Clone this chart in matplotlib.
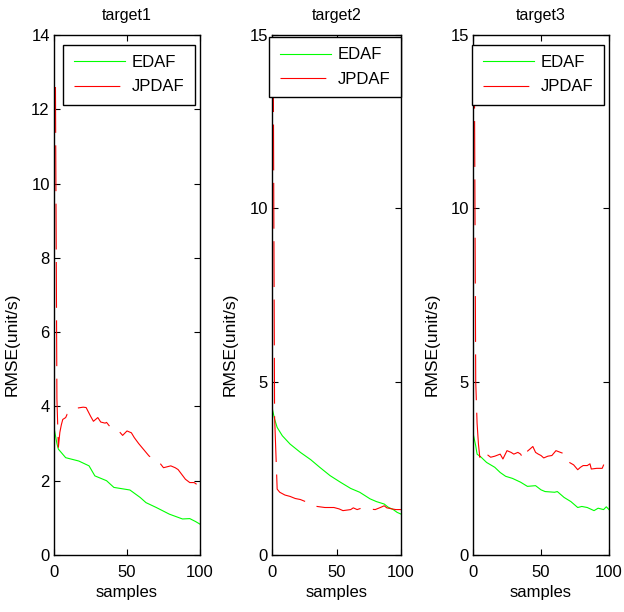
import matplotlib
matplotlib.use("Agg")
from matplotlib import pyplot as plt

plt.rcParams['font.family'] = ['Liberation Sans', 'DejaVu Sans']
plt.rcParams['lines.scale_dashes'] = False

# target1
t1_edaf_x = [0, 2, 3, 8, 17, 24, 28, 36, 41, 52, 59, 63, 70, 79, 88, 93, 97, 100]
t1_edaf_y = [3.43, 3.0, 2.85, 2.62, 2.53, 2.4, 2.13, 2.0, 1.82, 1.75, 1.55, 1.41, 1.28, 1.1, 0.97, 0.98, 0.9, 0.83]
t1_jpdaf_x = [1, 2, 3, 4, 5, 6, 8, 9, 12, 15, 20, 22, 25, 27, 30, 32, 35, 36, 40, 45, 47, 50,
              53, 55, 58, 65, 68, 72, 75, 80, 83, 85, 90, 93, 96, 100]
t1_jpdaf_y = [12.6, 4.2, 2.9, 3.3, 3.5, 3.65, 3.7, 3.79, 3.85, 3.95, 3.98, 3.97, 3.74, 3.6, 3.7, 3.58,
              3.55, 3.57, 3.37, 3.31, 3.22, 3.34, 3.29, 3.16, 3.0, 2.67, 2.58, 2.5, 2.35, 2.4, 2.35,
              2.3, 2.04, 1.95, 1.95, 1.84]

# target2
t2_edaf_x = [0, 2, 4, 8, 14, 22, 30, 37, 45, 53, 61, 68, 76, 81, 87, 90, 94, 97, 100]
t2_edaf_y = [4.26, 3.92, 3.68, 3.44, 3.2, 2.96, 2.75, 2.53, 2.29, 2.1, 1.92, 1.81, 1.62, 1.54,
             1.47, 1.38, 1.31, 1.23, 1.18]
t2_jpdaf_x = [1, 2, 4, 6, 10, 14, 18, 22, 26, 30, 31, 35, 41, 48, 52, 55, 61, 63, 66, 70, 75,
              80, 84, 87, 89, 93, 96, 100]
t2_jpdaf_y = [14.1, 4.0, 1.9, 1.81, 1.73, 1.69, 1.63, 1.6, 1.54, 1.47, 1.44, 1.4, 1.37, 1.37,
              1.33, 1.28, 1.31, 1.36, 1.31, 1.36, 1.33, 1.31, 1.37, 1.42, 1.36, 1.33, 1.31, 1.31]

# target3
t3_edaf_x = [0, 2, 3, 6, 10, 16, 20, 24, 29, 35, 40, 46, 50, 53, 60, 62, 67, 72, 77, 80, 84,
             89, 92, 96, 98, 100]
t3_edaf_y = [3.52, 3.15, 2.91, 2.82, 2.67, 2.53, 2.38, 2.27, 2.21, 2.1, 1.98, 2.0, 1.88, 1.83,
             1.81, 1.83, 1.66, 1.54, 1.37, 1.4, 1.37, 1.28, 1.35, 1.31, 1.39, 1.31]
t3_jpdaf_x = [1, 2, 3, 4, 5, 7, 8, 10, 11, 13, 16, 20, 22, 25, 28, 30, 33, 35, 37, 39, 42, 44,
              46, 48, 50, 52, 55, 58, 61, 65, 68, 70, 74, 77, 79, 81, 84, 86, 87, 91, 95, 97, 100]
t3_jpdaf_y = [14.2, 5.0, 3.8, 3.2, 2.82, 2.96, 3.0, 2.87, 2.88, 2.82, 2.85, 2.91, 2.77, 3.01,
              2.96, 2.91, 2.96, 2.91, 2.77, 2.96, 3.06, 3.13, 2.96, 2.91, 2.87, 2.8, 2.85, 2.87,
              3.01, 2.95, 2.91, 2.69, 2.6, 2.46, 2.53, 2.58, 2.58, 2.63, 2.48, 2.5, 2.5, 2.69, 2.58]

titles = ['target1', 'target2', 'target3']
ymax = [14, 15, 15]
yticks = [[0, 2, 4, 6, 8, 10, 12, 14], [0, 5, 10, 15], [0, 5, 10, 15]]
series = [(t1_edaf_x, t1_edaf_y, t1_jpdaf_x, t1_jpdaf_y),
          (t2_edaf_x, t2_edaf_y, t2_jpdaf_x, t2_jpdaf_y),
          (t3_edaf_x, t3_edaf_y, t3_jpdaf_x, t3_jpdaf_y)]

# axes boxes in pixels (left, right), figure is 624x612
W, H = 624, 612
boxes = [(54, 200), (272, 401), (473, 609)]
top, bottom = 35, 555
leg_anchor = [(0.966, 0.981), (1.0, 0.996), (0.963, 0.981)]
ylab_x = [-0.233, -0.264, -0.243]

fig = plt.figure(figsize=(6.24, 6.12), dpi=100)
for i in range(3):
    l, r = boxes[i]
    ax = fig.add_axes([l / W, (H - bottom) / H, (r - l) / W, (bottom - top) / H])
    ex, ey, jx, jy = series[i]
    ax.plot(ex, ey, color=(0, 1, 0), lw=0.8, label='EDAF')
    ax.plot(jx, jy, color=(1, 0, 0), lw=0.8, dashes=(33, 9), label='JPDAF')
    ax.set_xlim(0, 100)
    ax.set_ylim(0, ymax[i])
    ax.set_xticks([0, 50, 100])
    ax.set_yticks(yticks[i])
    ax.tick_params(direction='in', top=True, right=True, length=4, labelsize=12)
    ax.tick_params(axis='x', pad=7)
    ax.tick_params(axis='y', pad=3)
    for s in ax.spines.values():
        s.set_linewidth(1.0)
    ax.set_title(titles[i], fontsize=11.5, pad=11)
    ax.set_xlabel('samples', fontsize=12, labelpad=4)
    ax.set_ylabel('RMSE(unit/s)', fontsize=12.5)
    ax.yaxis.set_label_coords(ylab_x[i], 0.406)
    leg = ax.legend(loc='upper right', bbox_to_anchor=leg_anchor[i], borderaxespad=0,
                    fontsize=12, handlelength=3.1, handletextpad=0.4, labelspacing=0.55,
                    fancybox=False, framealpha=1, edgecolor='black', borderpad=0.62)
    leg.get_frame().set_linewidth(1.0)

fig.savefig('out.png', dpi=100)
